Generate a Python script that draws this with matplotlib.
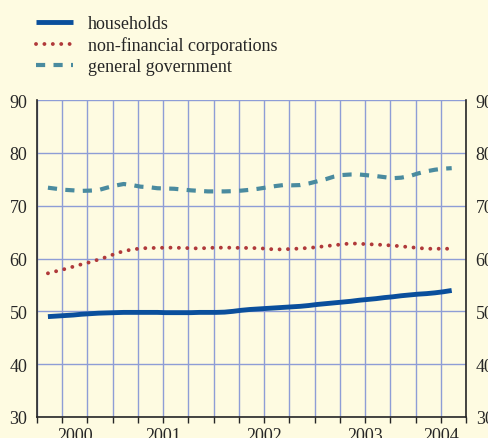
import numpy as np
import matplotlib.pyplot as plt
from matplotlib.ticker import FixedLocator, NullFormatter, FixedFormatter

# monthly observations, May 2000 - May 2004 (x in months since Jan 2000)
first_obs = 4.3
households = [49.0, 49.1, 49.2, 49.3, 49.45, 49.55, 49.65, 49.7, 49.75, 49.8,
              49.8, 49.8, 49.8, 49.8, 49.75, 49.75, 49.75, 49.75, 49.8, 49.8,
              49.8, 49.85, 50.0, 50.2, 50.35, 50.45, 50.55, 50.65, 50.75, 50.85,
              50.95, 51.1, 51.3, 51.45, 51.6, 51.75, 51.9, 52.1, 52.25, 52.4,
              52.6, 52.75, 52.95, 53.1, 53.25, 53.35, 53.5, 53.7, 53.95]
non_fin_corp = [57.2, 57.6, 58.0, 58.45, 58.9, 59.3, 59.8, 60.3, 60.9, 61.4,
                61.7, 61.9, 62.0, 62.0, 62.05, 62.05, 62.0, 61.95, 61.9, 62.0,
                62.05, 62.05, 62.05, 62.0, 62.0, 61.95, 61.85, 61.7, 61.75, 61.8,
                61.9, 62.0, 62.15, 62.35, 62.5, 62.7, 62.85, 62.8, 62.7, 62.65,
                62.55, 62.45, 62.3, 62.15, 62.0, 61.85, 61.85, 61.85, 61.85]
general_gov = [73.4, 73.2, 73.0, 72.9, 72.8, 72.85, 72.95, 73.4, 73.8, 74.1,
               73.9, 73.6, 73.5, 73.3, 73.25, 73.2, 73.05, 72.9, 72.8, 72.7,
               72.7, 72.7, 72.75, 72.85, 73.0, 73.2, 73.45, 73.7, 73.9, 73.85,
               73.9, 74.2, 74.6, 75.0, 75.5, 75.8, 75.9, 75.9, 75.75, 75.6,
               75.4, 75.2, 75.3, 75.6, 76.1, 76.5, 76.8, 77.0, 77.1]

years = ["2000", "2001", "2002", "2003", "2004"]
year_pos = [7.5, 18, 30, 42, 51]
x_start, x_end = 3, 54
y_ticks = [30, 40, 50, 60, 70, 80, 90]

bg = "#fefbe1"
grid_col = "#8e9dd6"
text_col = "#262626"

plt.rcParams["font.family"] = ["Liberation Serif", "DejaVu Serif"]

x = first_obs + np.arange(len(households))

fig = plt.figure(figsize=(4.88, 4.39), dpi=100, facecolor=bg)
ax = fig.add_axes([37 / 488, 21 / 439, 429 / 488, 317 / 439], facecolor=bg)

ax.plot(x, households, color="#0a4f9c", lw=3.5, solid_capstyle="butt",
        label="households", zorder=5)
ax.plot(x, non_fin_corp, color="#b0393a", lw=2.8, linestyle=(0, (0.01, 2.15)),
        dash_capstyle="round", label="non-financial corporations", zorder=5)
ax.plot(x, general_gov, color="#4a8b9f", lw=3.0, linestyle=(0, (2.2, 2.0)),
        label="general government", zorder=5)

ax.set_xlim(x_start, x_end)
ax.set_ylim(30, 90)
# quarters as minor ticks (gridlines), years as major labels
ax.xaxis.remove_overlapping_locs = False
ax.xaxis.set_minor_locator(FixedLocator(np.arange(x_start, x_end + 1, 3)))
ax.xaxis.set_minor_formatter(NullFormatter())
ax.xaxis.set_major_locator(FixedLocator(year_pos))
ax.xaxis.set_major_formatter(FixedFormatter(years))
ax.tick_params(axis="x", which="minor", direction="out", length=4, width=1,
               color=text_col)
ax.tick_params(axis="x", which="major", length=0, pad=7, labelsize=13,
               labelcolor=text_col)
ax.set_yticks(y_ticks)
ax.tick_params(axis="y", length=0, pad=7, labelsize=13, labelcolor=text_col,
               labelright=True)

ax.grid(False, axis="x", which="major")
ax.grid(True, axis="x", which="minor", color=grid_col, lw=1.0)
ax.grid(True, axis="y", which="major", color=grid_col, lw=1.0)
ax.set_axisbelow(True)
for side in ["left", "right", "bottom"]:
    ax.spines[side].set_color(text_col)
    ax.spines[side].set_linewidth(1.2)
ax.spines["top"].set_visible(False)

fig.legend(loc="upper left", bbox_to_anchor=(36 / 488, 1 - 16 / 439),
           frameon=False, fontsize=13, handlelength=2.05, handletextpad=0.83,
           labelspacing=0.22, borderaxespad=0, borderpad=0, labelcolor=text_col)

fig.savefig("out.png", dpi=100, facecolor=bg)
